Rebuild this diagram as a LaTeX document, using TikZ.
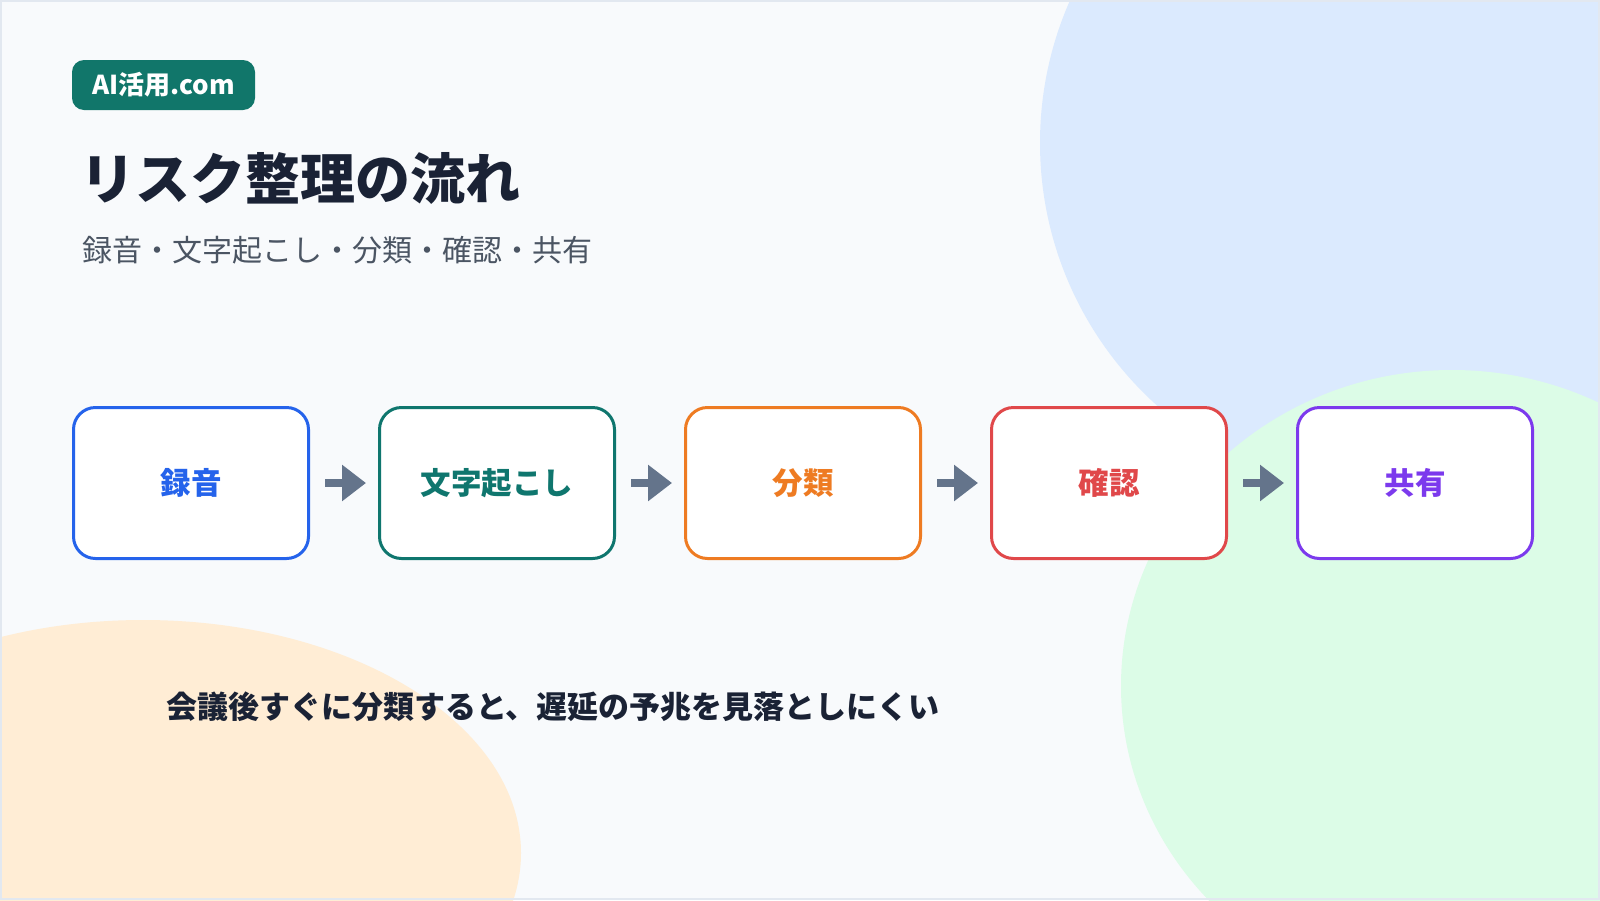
\documentclass[tikz,border=0pt]{standalone}
\usepackage{fontspec}
\setmainfont{Noto Sans CJK JP}
\usetikzlibrary{arrows.meta}
\definecolor{bgc}{HTML}{F8FAFC}
\definecolor{framec}{HTML}{E2E8F0}
\definecolor{blobblue}{HTML}{DBEAFE}
\definecolor{blobgreen}{HTML}{DCFCE7}
\definecolor{bloborange}{HTML}{FFEDD5}
\definecolor{badgec}{HTML}{11766A}
\definecolor{titlec}{HTML}{1A2235}
\definecolor{subc}{HTML}{4B5563}
\definecolor{c1}{HTML}{2563EB}
\definecolor{c2}{HTML}{0F766E}
\definecolor{c3}{HTML}{EE7B22}
\definecolor{c4}{HTML}{E0484A}
\definecolor{c5}{HTML}{7C3AED}
\definecolor{arrowc}{HTML}{64748B}
\tikzset{
  stepbox/.style={draw=#1, text=#1, fill=white, line width=3pt, rounded corners=22pt,
    minimum width=235pt, minimum height=151pt, inner sep=0pt,
    font=\fontsize{30.5}{36}\selectfont\bfseries},
  flowarrow/.style={draw=arrowc, line width=8pt, shorten <=15pt, shorten >=12pt,
    -{Triangle[length=24pt,width=35pt]}},
  plaintext/.style={inner sep=0pt, anchor=west}
}
\begin{document}
\begin{tikzpicture}[x=1pt,y=-1pt]
\useasboundingbox (0,0) rectangle (1600,900);
\fill[bgc] (0,0) rectangle (1600,900);
\begin{scope}
  \clip (0,0) rectangle (1600,900);
  \fill[blobblue] (1393,143) circle (353);
  \fill[blobgreen] (1452,686) ellipse [x radius=331, y radius=316];
  \fill[bloborange] (143,853) ellipse [x radius=378, y radius=233];
\end{scope}
\draw[framec, line width=2pt] (1,1) rectangle (1599,899);

\node[fill=badgec, rounded corners=12pt, minimum width=183pt, minimum height=50pt, inner sep=0pt,
  text=white, font=\fontsize{26}{32}\selectfont\bfseries] (badge) at (163.5,85) {AI活用.com};

\node[plaintext, text=titlec, font=\fontsize{55}{62}\selectfont\bfseries] (title) at (80,178) {リスク整理の流れ};
\node[plaintext, text=subc, font=\fontsize{30}{36}\selectfont] (subtitle) at (82,250) {録音・文字起こし・分類・確認・共有};

\node[stepbox=c1] (b1) at (191,483) {録音};
\node[stepbox=c2] (b2) at (497,483) {文字起こし};
\node[stepbox=c3] (b3) at (803,483) {分類};
\node[stepbox=c4] (b4) at (1109,483) {確認};
\node[stepbox=c5] (b5) at (1415,483) {共有};

\draw[flowarrow] (b1) -- (b2);
\draw[flowarrow] (b2) -- (b3);
\draw[flowarrow] (b3) -- (b4);
\draw[flowarrow] (b4) -- (b5);

\node[plaintext, text=titlec, font=\fontsize{31}{38}\selectfont\bfseries] (note) at (166,707) {会議後すぐに分類すると、遅延の予兆を見落としにくい};
\end{tikzpicture}
\end{document}
